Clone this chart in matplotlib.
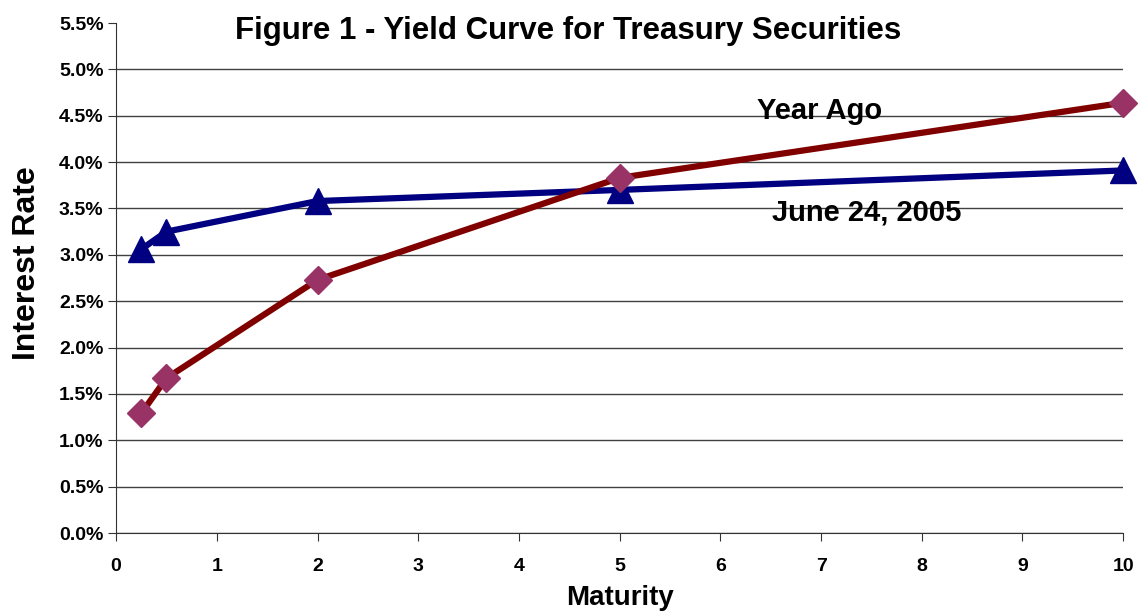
import numpy as np
import matplotlib.pyplot as plt
from matplotlib.ticker import FuncFormatter

plt.rcParams['font.family'] = ['Liberation Sans', 'DejaVu Sans']
plt.rcParams['font.weight'] = 'bold'

maturity = [0.25, 0.5, 2, 5, 10]
june_2005 = [3.06, 3.25, 3.58, 3.70, 3.91]
year_ago = [1.29, 1.67, 2.73, 3.83, 4.64]
x_ticks = list(range(0, 11))
y_ticks = list(np.arange(0, 5.51, 0.5))

fig = plt.figure(figsize=(11.38, 6.15), dpi=100)
ax = fig.add_axes([0.102, 0.1333, 0.885, 0.8293])

ax.plot(maturity, june_2005, color='#000080', lw=4.5, marker='^', ms=19,
        markerfacecolor='#000080', markeredgecolor='#000080', zorder=3, clip_on=False)
ax.plot(maturity, year_ago, color='#800000', lw=4.5, marker='D', ms=14,
        markerfacecolor='#993366', markeredgecolor='#993366', zorder=4, clip_on=False)

ax.set_xlim(0, 10)
ax.set_ylim(0, 5.5)
ax.set_xticks(x_ticks)
ax.set_yticks(y_ticks)
ax.yaxis.set_major_formatter(FuncFormatter(lambda v, p: '%.1f%%' % v))
ax.grid(axis='y', color='#404040', lw=1)
ax.get_ygridlines()[-1].set_visible(False)
ax.set_axisbelow(True)
for s in ['top', 'right']:
    ax.spines[s].set_visible(False)
ax.spines['left'].set_color('#333333')
ax.spines['bottom'].set_color('#333333')
ax.tick_params(direction='out', length=6, labelsize=14, color='#333333')
ax.tick_params(axis='y', pad=3)
ax.tick_params(axis='x', pad=12)
for lbl in ax.get_xticklabels() + ax.get_yticklabels():
    lbl.set_fontweight('bold')

fig.text(0.545, 0.016, 'Maturity', ha='center', va='baseline', fontsize=20, fontweight='bold')
fig.text(0.024, 0.572, 'Interest Rate', ha='center', va='center', rotation=90,
         fontsize=23, fontweight='bold')

fig.text(0.499, 0.9366, 'Figure 1 - Yield Curve for Treasury Securities',
         ha='center', va='baseline', fontsize=22.5, fontweight='bold')
ax.text(6.99, 4.465, 'Year Ago', ha='center', va='baseline', fontsize=21, fontweight='bold')
ax.text(7.45, 3.375, 'June 24, 2005', ha='center', va='baseline', fontsize=21, fontweight='bold')

fig.savefig('out.png', dpi=100)
